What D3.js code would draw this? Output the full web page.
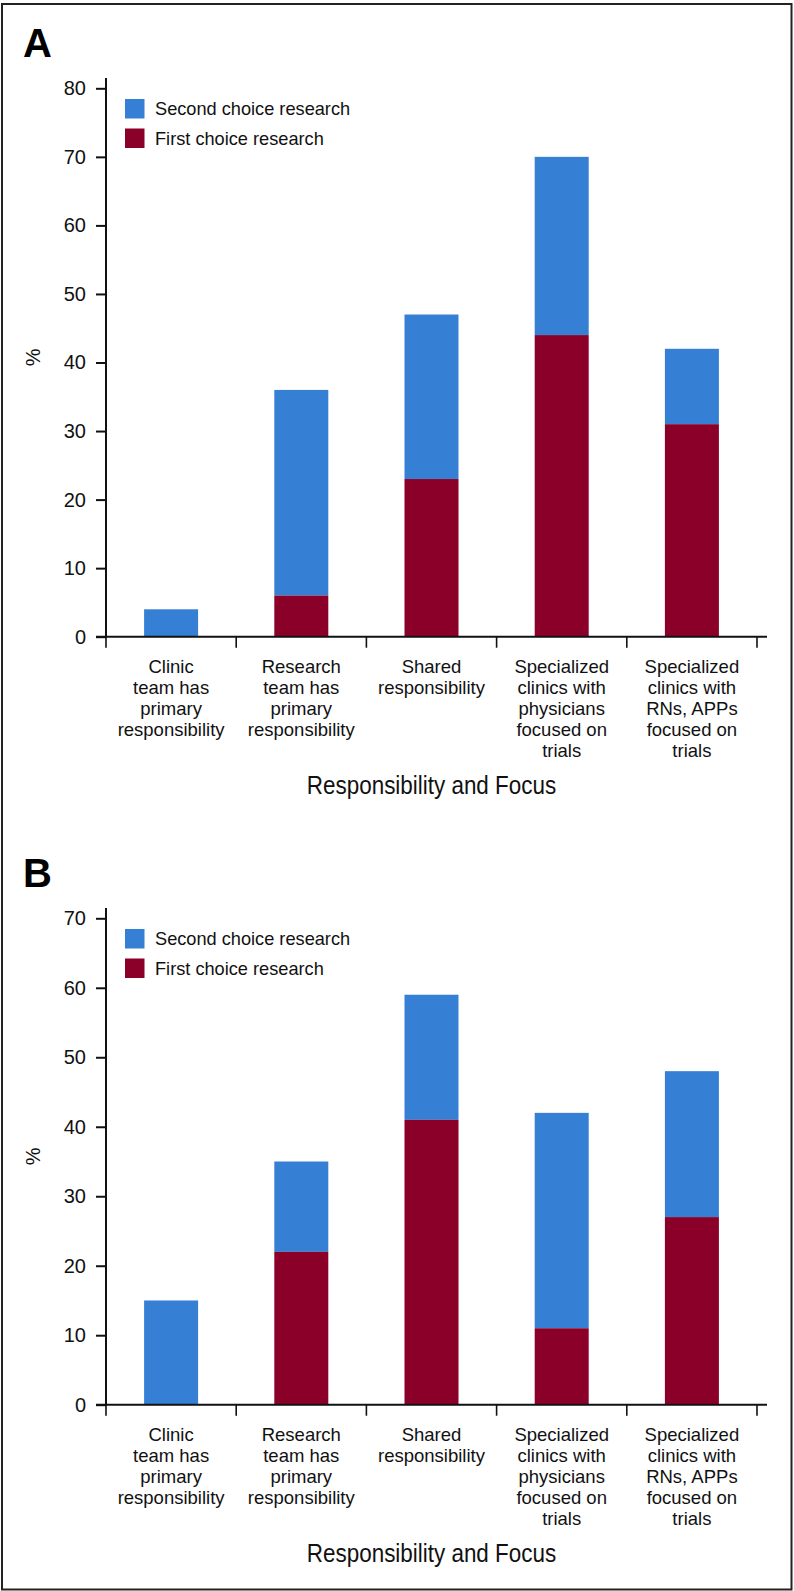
<!DOCTYPE html>
<html><head><meta charset="utf-8">
<script src="https://cdn.jsdelivr.net/npm/d3@7"></script>
<style>
html,body{margin:0;padding:0;background:#fff;}
text{font-family:"Liberation Sans",Arial,Helvetica,sans-serif;fill:#111;}
</style></head>
<body><svg id="chart" width="794" height="1591"></svg>
<script>
const categories = [
  ["Clinic","team has","primary","responsibility"],
  ["Research","team has","primary","responsibility"],
  ["Shared","responsibility"],
  ["Specialized","clinics with","physicians","focused on","trials"],
  ["Specialized","clinics with","RNs, APPs","focused on","trials"]
];
const seriesNames = ["Second choice research","First choice research"];
const colors = {second:"#3580d5", first:"#8b0028"};
const panelA_first = [0, 6, 23, 44, 31];
const panelA_total = [4, 36, 47, 70, 42];
const panelB_first = [0, 22, 41, 11, 27];
const panelB_total = [15, 35, 59, 42, 48];
const ticksA = [0,10,20,30,40,50,60,70,80];
const ticksB = [0,10,20,30,40,50,60,70];
const xTitle = "Responsibility and Focus";
const yTitle = "%";

const svg = d3.select("#chart");
svg.append("rect").attr("x",2).attr("y",4).attr("width",789.5).attr("height",1585.5)
  .attr("fill","none").attr("stroke","#222").attr("stroke-width",2);

function panel(opts){
  const {label, labelY, top, yMaxTick, yMax, bottom, first, total, ticks} = opts;
  const x0 = 106, x1 = 757;
  const g = svg.append("g");
  g.append("text").attr("x",23).attr("y",labelY).text(label)
    .style("font-size","40px").style("font-weight","bold").style("fill","#000");
  const y = d3.scaleLinear().domain([0,yMax]).range([bottom, yMaxTick]);
  const x = d3.scaleBand().domain(d3.range(categories.length)).range([x0,x1]).paddingInner(0).paddingOuter(0);
  const bw = 54;
  categories.forEach((c,i)=>{
    const cx = x(i) + x.bandwidth()/2;
    g.append("rect").attr("x",cx-bw/2).attr("width",bw)
      .attr("y",y(total[i])).attr("height",y(first[i])-y(total[i]))
      .attr("fill",colors.second);
    if(first[i]>0){
      g.append("rect").attr("x",cx-bw/2).attr("width",bw)
        .attr("y",y(first[i])).attr("height",y(0)-y(first[i]))
        .attr("fill",colors.first);
    }
  });
  const yAxis = d3.axisLeft(y).tickValues(ticks).tickSize(10).tickPadding(10).tickFormat(d3.format("d"));
  const ya = g.append("g").attr("transform",`translate(${x0},0)`).call(yAxis);
  ya.select(".domain").remove();
  ya.selectAll(".tick line").attr("stroke","#111").attr("stroke-width",2);
  ya.selectAll(".tick text").style("font-size","20px").style("font-family",'"Liberation Sans",Arial,sans-serif').attr("fill","#111");
  g.append("line").attr("x1",x0).attr("x2",x0).attr("y1",top).attr("y2",bottom+1)
    .attr("stroke","#111").attr("stroke-width",2);
  g.append("line").attr("x1",96).attr("x2",767).attr("y1",bottom).attr("y2",bottom)
    .attr("stroke","#111").attr("stroke-width",2);
  const bounds = d3.range(categories.length+1).map(i=> i<categories.length ? x(i) : x1);
  bounds.forEach(b=>{
    g.append("line").attr("x1",b).attr("x2",b).attr("y1",bottom).attr("y2",bottom+11)
      .attr("stroke","#111").attr("stroke-width",1.6);
  });
  categories.forEach((lines,i)=>{
    const cx = x(i)+x.bandwidth()/2;
    const t = g.append("text").attr("text-anchor","middle").style("font-size","18.5px");
    lines.forEach((ln,j)=>{
      t.append("tspan").attr("x",cx).attr("y",bottom+36+j*21).text(ln);
    });
  });
  g.append("text").attr("transform",`translate(${(x0+x1)/2},${bottom+157}) scale(0.88,1)`)
    .attr("text-anchor","middle").style("font-size","25.5px").text(xTitle);
  g.append("text").attr("transform",`translate(40,${(top+bottom)/2}) rotate(-90)`)
    .attr("text-anchor","middle").style("font-size","20px").text(yTitle);
  const lg = g.append("g");
  [[seriesNames[0],colors.second],[seriesNames[1],colors.first]].forEach((d,k)=>{
    const ly = top+21+k*29.5;
    lg.append("rect").attr("x",125).attr("y",ly).attr("width",19.5).attr("height",19.5).attr("fill",d[1]);
    lg.append("text").attr("x",155).attr("y",ly+16).style("font-size","18.2px").text(d[0]);
  });
}

panel({label:"A", labelY:57, top:78, yMaxTick:88.3, yMax:80, bottom:636.7, first:panelA_first, total:panelA_total, ticks:ticksA});
panel({label:"B", labelY:887, top:908, yMaxTick:918.3, yMax:70, bottom:1404.7, first:panelB_first, total:panelB_total, ticks:ticksB});
</script></body></html>
